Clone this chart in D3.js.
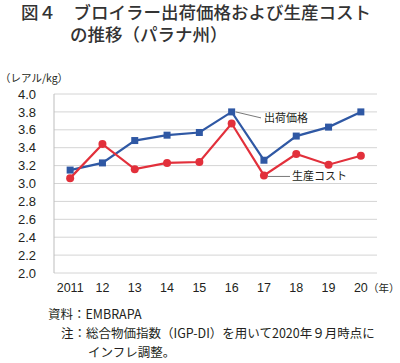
<!DOCTYPE html>
<html>
<head>
<meta charset="utf-8">
<script src="https://cdn.jsdelivr.net/npm/d3@7"></script>
<style>
	body { margin: 0; background: #fff; }
	text { font-family: "Noto Sans CJK JP", "Liberation Sans", sans-serif; fill: #231f20; }
	.num { font-family: "Liberation Sans", Arial, sans-serif; }
</style>
</head>
<body>
<div id="chart"></div>
<script>
/* data */
var years = ['2011', '12', '13', '14', '15', '16', '17', '18', '19', '20'];
var price = [3.15, 3.23, 3.48, 3.54, 3.57, 3.80, 3.26, 3.53, 3.63, 3.80];
var cost = [3.06, 3.44, 3.16, 3.23, 3.24, 3.67, 3.09, 3.33, 3.21, 3.31];
var y_ticks = [2.0, 2.2, 2.4, 2.6, 2.8, 3.0, 3.2, 3.4, 3.6, 3.8, 4.0];

var width = 400;
var height = 363;
var blue = '#2f58a4';
var red = '#e2303b';

var svg = d3.select('#chart').append('svg')
	.attr('width', width)
	.attr('height', height);

// title
svg.append('text')
	.text('図４　ブロイラー出荷価格および生産コスト')
	.attr('x', 21)
	.attr('y', 19)
	.style('font-size', '17.5px')
	.style('font-weight', 500)
	.style('fill', '#333');
svg.append('text')
	.text('の推移（パラナ州）')
	.attr('x', 70)
	.attr('y', 41)
	.style('font-size', '17.5px')
	.style('font-weight', 500)
	.style('fill', '#333');

// scales
var xScale = d3.scaleBand().domain(years).range([54, 377]);
var yScale = d3.scaleLinear().domain([2, 4]).range([273, 94]);
var cx = function (i) { return xScale(years[i]) + xScale.bandwidth() / 2; };

// grid
svg.append('g')
	.selectAll('line')
	.data(y_ticks)
	.enter()
	.append('line')
	.attr('x1', 54)
	.attr('x2', 377)
	.attr('y1', function (d) { return yScale(d); })
	.attr('y2', function (d) { return yScale(d); })
	.attr('stroke', '#d4d4d4')
	.attr('stroke-width', 1);
svg.append('line')
	.attr('x1', 54).attr('x2', 54)
	.attr('y1', yScale(4)).attr('y2', yScale(2))
	.attr('stroke', '#bdbdbd');

// y axis
var yAxis = d3.axisLeft(yScale)
	.tickValues(y_ticks)
	.tickFormat(d3.format('.1f'))
	.tickSize(0)
	.tickPadding(18);
var gy = svg.append('g')
	.attr('transform', 'translate(54,0)')
	.call(yAxis);
gy.select('.domain').remove();
gy.selectAll('text')
	.attr('class', 'num')
	.style('font-size', '13px')
	.style('fill', '#231f20');

svg.append('text')
	.text('（レアル/kg）')
	.attr('x', 0)
	.attr('y', 82)
	.style('font-size', '10.5px');

// x axis
var xAxis = d3.axisBottom(xScale).tickSize(0).tickPadding(10);
var gx = svg.append('g')
	.attr('transform', 'translate(0,' + 273 + ')')
	.call(xAxis);
gx.select('.domain').remove();
gx.selectAll('text')
	.attr('class', 'num')
	.style('font-size', '12.5px')
	.style('fill', '#231f20');
svg.append('text')
	.text('（年）')
	.attr('x', 368)
	.attr('y', 292)
	.style('font-size', '10.5px');

// lines
var line = d3.line()
	.x(function (d, i) { return cx(i); })
	.y(function (d) { return yScale(d); });

svg.append('path')
	.datum(price)
	.attr('d', line)
	.attr('fill', 'none')
	.attr('stroke', blue)
	.attr('stroke-width', 2.2);
svg.append('path')
	.datum(cost)
	.attr('d', line)
	.attr('fill', 'none')
	.attr('stroke', red)
	.attr('stroke-width', 2.2);

svg.append('g')
	.selectAll('rect')
	.data(price)
	.enter()
	.append('rect')
	.attr('x', function (d, i) { return cx(i) - 3.5; })
	.attr('y', function (d) { return yScale(d) - 3.5; })
	.attr('width', 7)
	.attr('height', 7)
	.attr('fill', blue);
svg.append('g')
	.selectAll('circle')
	.data(cost)
	.enter()
	.append('circle')
	.attr('cx', function (d, i) { return cx(i); })
	.attr('cy', function (d) { return yScale(d); })
	.attr('r', 4)
	.attr('fill', red);

// labels with leader lines
svg.append('line')
	.attr('x1', cx(5) + 4).attr('y1', yScale(price[5]))
	.attr('x2', 261).attr('y2', yScale(price[5]) + 6)
	.attr('stroke', '#555').attr('stroke-width', 0.8);
svg.append('text')
	.text('出荷価格')
	.attr('x', 264)
	.attr('y', yScale(price[5]) + 10)
	.style('font-size', '11px');
svg.append('line')
	.attr('x1', cx(6) + 4).attr('y1', yScale(cost[6]) + 1)
	.attr('x2', 290).attr('y2', yScale(cost[6]) + 1)
	.attr('stroke', '#555').attr('stroke-width', 0.8);
svg.append('text')
	.text('生産コスト')
	.attr('x', 292)
	.attr('y', yScale(cost[6]) + 5)
	.style('font-size', '11px');

// notes
var notes = [
	{x: 48, y: 319, t: '資料：EMBRAPA'},
	{x: 61, y: 338, t: '注：総合物価指数（IGP-DI）を用いて2020年９月時点に'},
	{x: 88, y: 357, t: 'インフレ調整。'}
];
svg.append('g')
	.selectAll('text')
	.data(notes)
	.enter()
	.append('text')
	.text(function (d) { return d.t; })
	.attr('x', function (d) { return d.x; })
	.attr('y', function (d) { return d.y; })
	.style('font-size', '12.5px');
</script>
</body>
</html>
